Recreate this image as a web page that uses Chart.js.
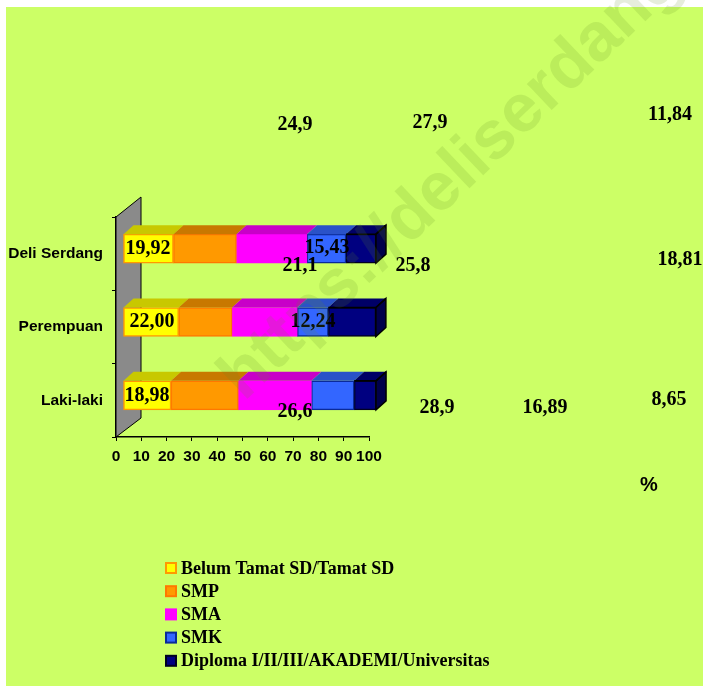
<!DOCTYPE html>
<html>
<head>
<meta charset="utf-8">
<script src="https://cdn.jsdelivr.net/npm/chart.js"></script>
<style>
  body { margin: 0; background: #fff; }
  #conteneur { position: relative; width: 703px; height: 686px; }
</style>
</head>
<body>
<div id="conteneur"><canvas id="myChart"></canvas></div>
<script>
const categories = ['Deli Serdang', 'Perempuan', 'Laki-laki'];
const series_names = ['Belum Tamat SD/Tamat SD', 'SMP', 'SMA', 'SMK', 'Diploma I/II/III/AKADEMI/Universitas'];

const sd = [19.92, 22.00, 18.98];
const smp = [24.9, 21.1, 26.6];
const sma = [27.9, 25.8, 28.9];
const smk = [15.43, 12.24, 16.89];
const diploma = [11.84, 18.81, 8.65];
const decimales = [2, 1, 1, 2, 2];

// the value labels are scattered in the original, centre of each one (px)
const label_pos = [
    [[148, 249], [152, 322], [147, 396]],
    [[295, 125], [300, 266], [295, 412]],
    [[430, 123], [413, 266], [437, 408]],
    [[327, 248], [313, 322], [545, 408]],
    [[670, 115], [680, 260], [669, 400]]
];

const couleurs = ['#FFFF00', '#FF9900', '#FF00FF', '#3366FF', '#000080'];
const bordures = ['#FF9900', '#FF7700', '#FF00FF', '#0A2A99', '#000022'];
const dessus = ['#C8C800', '#C87800', '#C800C8', '#2A52C8', '#000066'];

const DX = 7, DY = -5;   // bars stand in front of the wall
const PX = 10, PY = -9;  // depth of a bar

let all_values = [sd, smp, sma, smk, diploma];

function format_val(v, d) {
    return v.toFixed(d).replace('.', ',');
}

const plugin_3d = {
    id: 'plugin_3d',
    beforeDraw(chart) {
        const ctx = chart.ctx;
        ctx.save();
        ctx.fillStyle = '#FFFFFF';
        ctx.fillRect(0, 0, chart.width, chart.height);
        ctx.fillStyle = '#CCFF66';
        ctx.fillRect(6, 7, chart.width - 6, chart.height - 7);
        ctx.restore();
    },
    beforeDatasetsDraw(chart) {
        const ctx = chart.ctx;
        const a = chart.chartArea;
        // grey wall behind the bars
        ctx.save();
        ctx.beginPath();
        ctx.moveTo(a.left, a.top);
        ctx.lineTo(a.left + 25, a.top - 20);
        ctx.lineTo(a.left + 25, a.bottom - 19);
        ctx.lineTo(a.left, a.bottom);
        ctx.closePath();
        ctx.fillStyle = '#8A8A8A';
        ctx.fill();
        ctx.strokeStyle = '#000';
        ctx.lineWidth = 1;
        ctx.stroke();
        ctx.restore();

        ctx.save();
        ctx.translate(DX, DY);
    },
    afterDatasetsDraw(chart) {
        const ctx = chart.ctx;
        const n = chart.data.datasets.length;
        for (let i = 0; i < n; i++) {
            const meta = chart.getDatasetMeta(i);
            meta.data.forEach((bar) => {
                const p = bar.getProps(['x', 'y', 'base', 'height'], true);
                const top = p.y - p.height / 2;
                const bottom = p.y + p.height / 2;
                ctx.beginPath();
                ctx.moveTo(p.base, top);
                ctx.lineTo(p.x, top);
                ctx.lineTo(p.x + PX, top + PY);
                ctx.lineTo(p.base + PX, top + PY);
                ctx.closePath();
                ctx.fillStyle = dessus[i];
                ctx.fill();
                if (i === n - 1) {
                    ctx.beginPath();
                    ctx.moveTo(p.x, top);
                    ctx.lineTo(p.x + PX, top + PY);
                    ctx.lineTo(p.x + PX, bottom + PY);
                    ctx.lineTo(p.x, bottom);
                    ctx.closePath();
                    ctx.fillStyle = '#00004A';
                    ctx.fill();
                    ctx.strokeStyle = '#000';
                    ctx.lineWidth = 1.5;
                    ctx.stroke();
                    ctx.beginPath();
                    ctx.moveTo(p.base, top);
                    ctx.lineTo(p.x, top);
                    ctx.lineTo(p.x + PX, top + PY);
                    ctx.stroke();
                }
            });
        }
        ctx.restore();
    },
    afterDraw(chart) {
        const ctx = chart.ctx;
        ctx.save();

        // value labels
        ctx.fillStyle = '#000';
        ctx.font = 'bold 20px "Liberation Serif", serif';
        ctx.textAlign = 'center';
        ctx.textBaseline = 'middle';
        all_values.forEach((serie, i) => {
            serie.forEach((v, j) => {
                const pos = label_pos[i][j];
                ctx.fillText(format_val(v, decimales[i]), pos[0], pos[1]);
            });
        });

        ctx.font = 'bold 20px "Liberation Sans", sans-serif';
        ctx.fillText('%', 649, 485);

        // legend
        ctx.textAlign = 'left';
        ctx.font = 'bold 18px "Liberation Serif", serif';
        chart.data.datasets.forEach((ds, i) => {
            const y = 568 + 23.2 * i;
            ctx.fillStyle = ds.backgroundColor;
            ctx.fillRect(166, y - 5, 10, 10);
            ctx.strokeStyle = ds.borderColor;
            ctx.lineWidth = 2;
            ctx.strokeRect(166, y - 5, 10, 10);
            ctx.fillStyle = '#000';
            ctx.fillText(ds.label, 181, y + 1);
        });

        // watermark
        ctx.translate(244, 402);
        ctx.rotate(-43.5 * Math.PI / 180);
        ctx.font = 'bold 68px "Liberation Sans", sans-serif';
        ctx.fillStyle = 'rgba(100, 140, 40, 0.16)';
        ctx.textBaseline = 'alphabetic';
        ctx.fillText('https://deliserdang.bps.go.id', 0, 0);
        ctx.restore();
    }
};

const police_axe = { family: '"Liberation Sans", Arial, sans-serif', size: 15.5, weight: 'bold' };

let my_chart = new Chart(document.getElementById('myChart'), {
    type: 'bar',
    data: {
        labels: categories,
        datasets: all_values.map((serie, i) => {
            return {
                label: series_names[i],
                data: serie,
                backgroundColor: couleurs[i],
                borderColor: bordures[i],
                borderWidth: 1.5,
                borderSkipped: false,
                barThickness: 29,
                clip: false
            };
        })
    },
    options: {
        indexAxis: 'y',
        responsive: true,
        maintainAspectRatio: false,
        animation: false,
        layout: { padding: { left: 0, right: 334, top: 217, bottom: 0 } },
        plugins: {
            legend: { display: false },
            tooltip: { enabled: false }
        },
        scales: {
            x: {
                stacked: true,
                min: 0,
                max: 100,
                ticks: { stepSize: 10, autoSkip: false, color: '#000', font: police_axe, padding: 6, maxRotation: 0 },
                grid: { drawOnChartArea: false, tickLength: 4, color: '#000' },
                border: { color: '#000', width: 1.5 },
                afterFit: (s) => { s.height = 249; }
            },
            y: {
                stacked: true,
                ticks: { color: '#000', font: police_axe, padding: 9 },
                grid: { drawOnChartArea: false, tickLength: 4, color: '#000', offset: true },
                border: { color: '#000', width: 1.5 },
                afterFit: (s) => { s.width = 116; }
            }
        }
    },
    plugins: [plugin_3d]
});
</script>
</body>
</html>
